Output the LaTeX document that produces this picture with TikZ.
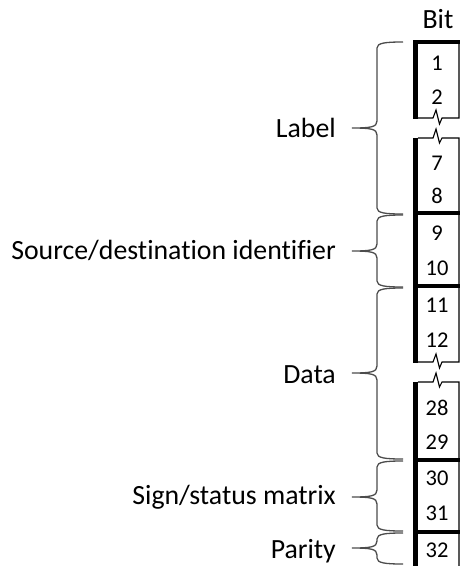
\documentclass[tikz,border=0pt]{standalone}
\usepackage{fontspec}
\setmainfont{Carlito}[Ligatures=NoCommon]
\begin{document}
\begin{tikzpicture}[x=1pt,y=-1pt,
  thin edge/.style={draw=black,line width=1.1pt,line join=miter},
  thick edge/.style={draw=black,line width=4.5pt},
  bracestyle/.style={draw=black!70,line width=1.3pt},
  bitnum/.style={font=\fontsize{22.5}{25}\selectfont,inner sep=0pt},
  fieldlabel/.style={font=\fontsize{27.8}{30}\selectfont,inner sep=0pt,anchor=base east}]
\useasboundingbox (0,0) rectangle (461,566);
% segment A (bits 1-2)
\draw[thin edge] (459,40) -- (459,118) -- (442,118) -- (439.5,124) -- (436,110) -- (433,118) -- (418,118);
% segment B (bits 7-12)
\draw[thin edge] (418,138) -- (433,138) -- (436,129) -- (439.5,143) -- (442,138) -- (459,138) -- (459,362)
  -- (442,362) -- (439.5,368) -- (436,354) -- (433,362) -- (418,362);
% segment C (bits 28-32)
\draw[thin edge] (418,382) -- (433,382) -- (436,373) -- (439.5,387) -- (442,382) -- (459,382) -- (459,575);
% thick left edges
\draw[thick edge] (415.5,40) -- (415.5,118.5);
\draw[thick edge] (415.5,137.5) -- (415.5,362.5);
\draw[thick edge] (415.5,381.5) -- (415.5,575);
% thick separators
\draw[thick edge] (413.25,42) -- (459.5,42);
\draw[thick edge] (413.25,213) -- (459.5,213);
\draw[thick edge] (413.25,286) -- (459.5,286);
\draw[thick edge] (413.25,460) -- (459.5,460);
\draw[thick edge] (413.25,532) -- (459.5,532);
% header
\node[font=\fontsize{27.8}{30}\selectfont,inner sep=0pt,anchor=base] (bit) at (438,28) {Bit};
% bit numbers
\node[bitnum] (b1) at (437,63) {1};
\node[bitnum] (b2) at (437,97) {2};
\node[bitnum] (b7) at (437,163) {7};
\node[bitnum] (b8) at (437,196) {8};
\node[bitnum] (b9) at (437,233) {9};
\node[bitnum] (b10) at (437,268) {10};
\node[bitnum] (b11) at (437,305) {11};
\node[bitnum] (b12) at (437,340) {12};
\node[bitnum] (b28) at (437,408) {28};
\node[bitnum] (b29) at (437,442) {29};
\node[bitnum] (b30) at (437,478) {30};
\node[bitnum] (b31) at (437,513) {31};
\node[bitnum] (b32) at (437,550) {32};
% braces: #1 top, #2 tip, #3 bottom
\newcommand\wbrace[3]{%
  \draw[bracestyle] (403,#1) .. controls (385,#1) and (377,{#1+1}) .. (377,{#1+6})
    -- (377,{#2-7}) .. controls (377,{#2-1}) and (371,#2) .. (352,#2)
    .. controls (371,#2) and (377,{#2+1}) .. (377,{#2+7})
    -- (377,{#3-6}) .. controls (377,{#3-1}) and (385,#3) .. (403,#3);}
\wbrace{42}{128}{214}
\wbrace{215}{251}{287}
\wbrace{288}{373}{459}
\wbrace{461}{497}{531}
\wbrace{533}{548}{564}
% labels
\node[fieldlabel] (lab) at (336,137) {Label};
\node[fieldlabel] (src) at (336,259) {Source/destination identifier};
\node[fieldlabel] (dat) at (336,383) {Data};
\node[fieldlabel] (sgn) at (336,504) {Sign/status matrix};
\node[fieldlabel] (par) at (336,558) {Parity};
\end{tikzpicture}
\end{document}
